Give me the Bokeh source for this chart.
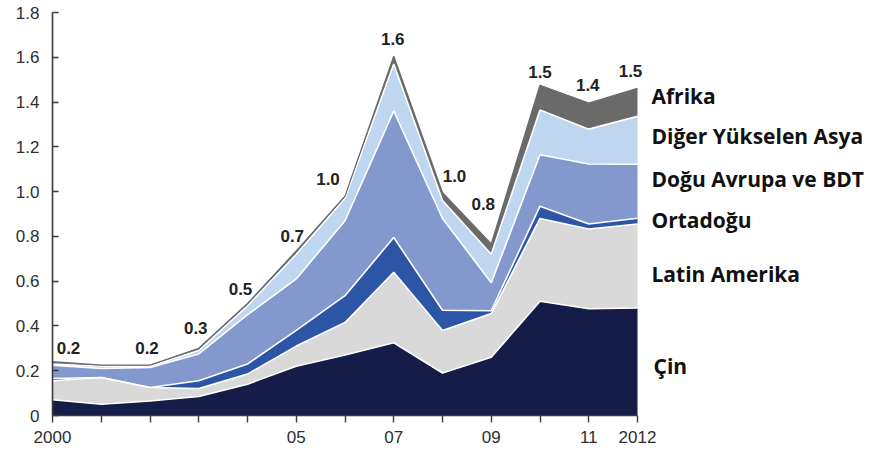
from bokeh.plotting import figure
from bokeh.models import ColumnDataSource, FixedTicker, CustomJSTickFormatter, Range1d
from bokeh.core.properties import value
from bokeh.transform import stack
from bokeh.embed import file_html
from bokeh.resources import INLINE

# ---- data ----
years = [2000, 2001, 2002, 2003, 2004, 2005, 2006, 2007, 2008, 2009, 2010, 2011, 2012]
cin = [0.07, 0.05, 0.065, 0.085, 0.14, 0.22, 0.27, 0.325, 0.19, 0.26, 0.51, 0.477, 0.48]
latin = [0.085, 0.12, 0.06, 0.035, 0.045, 0.09, 0.145, 0.315, 0.19, 0.195, 0.37, 0.356, 0.375]
orta = [0.01, 0.0, 0.0, 0.035, 0.045, 0.07, 0.12, 0.155, 0.09, 0.013, 0.055, 0.022, 0.026]
dogu = [0.06, 0.04, 0.09, 0.12, 0.22, 0.23, 0.335, 0.565, 0.41, 0.125, 0.23, 0.268, 0.241]
asya = [0.005, 0.01, 0.005, 0.015, 0.04, 0.11, 0.10, 0.21, 0.08, 0.127, 0.20, 0.156, 0.214]
afrika = [0.01, 0.005, 0.005, 0.01, 0.01, 0.015, 0.01, 0.035, 0.035, 0.046, 0.11, 0.116, 0.125]
total_labels = ["0.2", "", "0.2", "0.3", "0.5", "0.7", "1.0", "1.6", "1.0", "0.8", "1.5", "1.4", "1.5"]

series_names = ["Çin", "Latin Amerika", "Ortadoğu", "Doğu Avrupa ve BDT",
                "Diğer Yükselen Asya", "Afrika"]
y_ticks = [0, 0.2, 0.4, 0.6, 0.8, 1.0, 1.2, 1.4, 1.6, 1.8]
x_tick_labels = {2000: "2000", 2001: "", 2002: "", 2003: "", 2004: "", 2005: "05",
                 2006: "", 2007: "07", 2008: "", 2009: "09", 2010: "", 2011: "11",
                 2012: "2012"}

# ---- styling / layout ----
colors = ["#151c48", "#d9d9d9", "#2c56a5", "#8399ce", "#bed6ef", "#6a6a6a"]
keys = ["cin", "latin", "orta", "dogu", "asya", "afrika"]

W, H = 884, 450
left, right_b, top_b, bottom_b = 52, 0, 12, 35
frame_w = W - left - right_b
px_per_year = 48.75
x_end = 2000 + frame_w / px_per_year

totals = [sum(v) for v in zip(cin, latin, orta, dogu, asya, afrika)]

src = ColumnDataSource(dict(year=years, cin=cin, latin=latin, orta=orta, dogu=dogu,
                            asya=asya, afrika=afrika))

p = figure(width=W, height=H, output_backend="svg", toolbar_location=None,
           x_range=Range1d(2000, x_end), y_range=Range1d(0, 1.8),
           min_border_left=left, min_border_right=right_b,
           min_border_top=top_b, min_border_bottom=bottom_b)
p.outline_line_color = None
p.grid.visible = False
p.background_fill_color = "white"

p.varea_stack(stackers=keys, x="year", color=colors, source=src)
for i in range(1, 6):
    p.line(x="year", y=stack(*keys[:i]), color="white", line_width=1.6, source=src)
p.line(x="year", y=stack(*keys), color="#6a6a6a", line_width=1.3, source=src)

# totals labels
lbl_dx = [16, 0, -3, -3, -7, -4, -17, -1, 12, -8, 0, -1, -7]
lbl_dy = [-14, 0, -17, -20, -15, -15, -17, -17, -17, -40, -13, -18, -17]
lsrc = ColumnDataSource(dict(x=years, y=totals, t=total_labels, dx=lbl_dx, dy=lbl_dy))
p.text(x="x", y="y", text="t", x_offset="dx", y_offset="dy", source=lsrc,
       text_align="center", text_baseline="middle",
       text_font=value("Liberation Sans"), text_font_style="bold",
       text_font_size="17px", text_color="#222222")

# series names at the right
name_y = [0.223, 0.633, 0.873, 1.056, 1.248, 1.426]
name_dx = [16, 14, 14, 14, 14, 14]
nsrc = ColumnDataSource(dict(x=[2012] * 6, y=name_y, t=series_names, dx=name_dx))
p.text(x="x", y="y", text="t", x_offset="dx", source=nsrc,
       text_align="left", text_baseline="middle",
       text_font=value("Open Sans"), text_font_style="bold",
       text_font_size="21px", text_color="#111111")

# axes
xa = p.xaxis[0]
xa.ticker = FixedTicker(ticks=years)
xa.major_label_overrides = x_tick_labels
xa.bounds = (2000, 2012)
xa.minor_tick_line_color = None
xa.major_tick_in = 0
xa.major_tick_out = 7
xa.major_label_standoff = 8

ya = p.yaxis[0]
ya.ticker = FixedTicker(ticks=y_ticks)
ya.formatter = CustomJSTickFormatter(code="return tick == 0 ? '0' : tick.toFixed(1);")
ya.minor_tick_line_color = None
ya.major_tick_in = 6
ya.major_tick_out = 0
ya.major_label_standoff = 13

for ax in (xa, ya):
    ax.axis_line_color = "#3a3a3a"
    ax.axis_line_width = 1.6
    ax.major_tick_line_color = "#3a3a3a"
    ax.major_tick_line_width = 1.4
    ax.major_label_text_font = "Liberation Sans"
    ax.major_label_text_font_size = "17px"
    ax.major_label_text_color = "#2e2e2e"

open("out.html", "w").write(file_html(p, INLINE))
